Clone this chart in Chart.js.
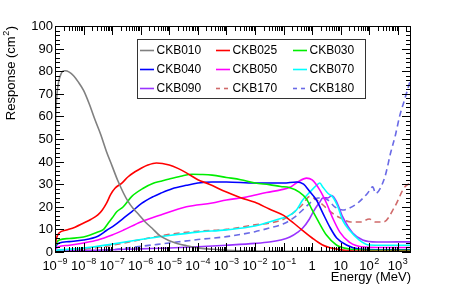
<!DOCTYPE html>
<html>
<head>
<meta charset="utf-8">
<script src="https://cdn.jsdelivr.net/npm/chart.js@4.4.1/dist/chart.umd.min.js"></script>
<style>
  html, body { margin: 0; padding: 0; background: #fff; }
  canvas { display: block; }
</style>
</head>
<body>
<canvas id="resp" width="457" height="287"></canvas>
<script>
// energies are given as log10(E / MeV), responses in cm^2
const ckb010LogE = [-9, -8.97, -8.93, -8.87, -8.8, -8.72, -8.65, -8.5, -8.35, -8.2, -8.0, -7.8, -7.6, -7.4, -7.2, -7.0, -6.8, -6.6, -6.45, -6.25, -6.1, -5.85, -5.6, -5.33, -5.0, -4.73, -4.4, -3.93, -3.5, -3.0, -2.0, -1.0, 0, 3.46];
const ckb010Resp = [45, 62, 70, 75.5, 78.5, 80, 80.2, 79.6, 78, 75.5, 71.5, 65.5, 58.5, 52, 44.5, 38, 31.5, 26, 22.5, 19, 17, 13.4, 10.5, 7.2, 5, 3.8, 2.8, 1.7, 1.2, 0.8, 0.4, 0.3, 0.2, 0.2];

const ckb025LogE = [-9, -8.95, -8.85, -8.6, -8.3, -8.0, -7.75, -7.5, -7.35, -7.2, -7.05, -6.9, -6.67, -6.44, -6.2, -5.97, -5.75, -5.45, -5.0, -4.7, -4.4, -4.0, -3.6, -3.0, -2.5, -2.0, -1.5, -1.0, -0.7, -0.35, 0, 0.35, 0.6, 0.9, 1.2, 1.6, 2.5, 3.46];
const ckb025Resp = [2, 6, 8.5, 9.7, 11, 12.8, 14.4, 16.4, 18.5, 21.5, 25.5, 28.2, 30.4, 33.3, 35.5, 37.2, 38.5, 39.4, 38.5, 37, 35, 32, 30, 26.5, 24, 22, 19, 16.2, 13.3, 9.7, 6.2, 3.2, 2, 1.2, 0.6, 0.4, 0.3, 0.3];

const ckb030LogE = [-9, -8.95, -8.85, -8.5, -8.0, -7.5, -7.3, -7.14, -7.0, -6.84, -6.61, -6.32, -5.91, -5.56, -5.3, -5.0, -4.6, -4.2, -3.9, -3.5, -3.0, -2.5, -2.0, -1.5, -1.1, -0.8, -0.45, -0.2, 0.0, 0.25, 0.5, 0.85, 1.3, 2, 3.46];
const ckb030Resp = [2, 4, 5.3, 6, 6.6, 8.8, 10, 12.7, 15, 17.8, 20, 24.5, 28.2, 30.4, 31.3, 32.3, 33.5, 34.4, 34.3, 34, 33, 32, 30.5, 29.8, 29, 28.5, 26.5, 23.5, 18.6, 12.8, 7.5, 3.1, 1.3, 0.8, 0.8];

const ckb040LogE = [-9, -8.95, -8.85, -8.5, -8.0, -7.5, -7.2, -6.9, -6.61, -6.32, -5.97, -5.56, -5.3, -4.9, -4.4, -4.0, -3.5, -3.0, -2.0, -1.5, -1.0, -0.55, -0.3, -0.1, 0.15, 0.37, 0.62, 0.86, 1.2, 1.65, 2.5, 3.46];
const ckb040Resp = [1.5, 3, 4, 4.6, 5.3, 7, 9.5, 12, 14.9, 17.8, 21.5, 24.5, 26, 28, 29.5, 30.5, 31, 31, 30.5, 30.5, 30.5, 31, 30, 27, 23, 17.3, 11, 6.2, 3.1, 1.3, 1, 1];

const ckb050LogE = [-9, -8.9, -8.5, -8.0, -7.5, -7.0, -6.6, -6.0, -5.3, -4.4, -3.5, -3.0, -2.3, -1.6, -1.1, -0.8, -0.5, -0.2, 0.0, 0.27, 0.5, 0.72, 0.97, 1.3, 1.8, 2.5, 3.46];
const ckb050Resp = [1, 2.2, 3, 4, 5.3, 7.5, 9.7, 13.3, 16.4, 20, 21.7, 23, 24.3, 26.3, 27.5, 28.5, 31, 32.7, 31.9, 27.4, 21.7, 15, 8.8, 4.4, 2.2, 2, 2];

const ckb070LogE = [-9, -8, -7, -6, -5, -4, -3, -2, -1.5, -1.1, -0.85, -0.55, -0.33, -0.08, 0.16, 0.27, 0.37, 0.55, 0.72, 0.9, 1.07, 1.3, 1.65, 2.0, 2.5, 3.46];
const ckb070Resp = [0.8, 1.7, 3.5, 5.5, 7.3, 8.8, 9.8, 11.5, 13.3, 14.8, 15.8, 18.6, 23, 26.5, 29.6, 30.5, 28.8, 26, 24.3, 20, 14, 9.7, 5.3, 3.1, 3, 3];

const ckb090LogE = [-9, -8, -7, -6, -5, -4, -3, -2, -1.5, -1.1, -0.78, -0.5, -0.33, -0.1, 0.02, 0.15, 0.27, 0.37, 0.47, 0.55, 0.69, 0.86, 1.07, 1.42, 1.77, 2.26, 3.0, 3.46];
const ckb090Resp = [0.3, 0.6, 1.0, 1.4, 1.8, 2.3, 3, 3.8, 4.4, 5.3, 6.6, 8.8, 10.6, 14.5, 17.3, 20, 22.1, 23.9, 24.0, 23.9, 25, 22.1, 15.5, 8.4, 5.3, 4.4, 4.5, 4.5];

const ckb170LogE = [-9, -8, -7, -6, -5, -4, -3, -2, -1.5, -1.0, -0.5, -0.3, -0.1, 0.3, 0.65, 1.0, 1.35, 1.7, 2.0, 2.2, 2.5, 2.89, 3.24, 3.46];
const ckb170Resp = [0.5, 1.2, 3, 5.5, 7.8, 9.2, 10, 12, 12.8, 14.5, 19, 21.5, 24.5, 21.7, 17.7, 15, 13.3, 13.3, 14.6, 13.3, 13.3, 20, 28.8, 30.5];

const ckb180LogE = [-9, -8, -7, -6, -5, -4, -3, -2, -1.5, -1.0, -0.6, -0.3, 0.0, 0.2, 0.55, 0.79, 1.07, 1.31, 1.6, 1.94, 2.12, 2.22, 2.54, 2.75, 2.92, 3.06, 3.25, 3.46];
const ckb180Resp = [0.2, 0.4, 1, 2.5, 4, 5.5, 6.8, 9, 10.6, 12.5, 15.5, 19, 22.5, 23.9, 23, 20, 18.6, 19.5, 21.7, 26, 28.8, 26, 33, 44, 52, 60, 68, 77];

const seriesNames = ['CKB010', 'CKB025', 'CKB030', 'CKB040', 'CKB050', 'CKB070', 'CKB090', 'CKB170', 'CKB180'];
const seriesLogE = [ckb010LogE, ckb025LogE, ckb030LogE, ckb040LogE, ckb050LogE, ckb070LogE, ckb090LogE, ckb170LogE, ckb180LogE];
const seriesResp = [ckb010Resp, ckb025Resp, ckb030Resp, ckb040Resp, ckb050Resp, ckb070Resp, ckb090Resp, ckb170Resp, ckb180Resp];

const xDecades = [-9, -8, -7, -6, -5, -4, -3, -2, -1, 0, 1, 2, 3];
const yTicks = [0, 10, 20, 30, 40, 50, 60, 70, 80, 90, 100];

// styles
const colors = ['#808080', '#ff0000', '#00ee00', '#0000ff', '#ff00ff', '#00ffff', '#9933ff', '#d06a6a', '#6a6ae6'];
const dashed = [false, false, false, false, false, false, false, true, true];
const FONT = '"Liberation Sans", Arial, Helvetica, sans-serif';

const datasets = seriesNames.map((name, i) => ({
  label: name,
  data: seriesLogE[i].map((lx, j) => ({ x: Math.pow(10, lx), y: seriesResp[i][j] })),
  borderColor: colors[i],
  backgroundColor: colors[i],
  borderWidth: 1.6,
  borderDash: dashed[i] ? [6, 4] : [],
  pointRadius: 0,
  cubicInterpolationMode: 'monotone',
  fill: false
}));

function supText(ctx, base, exp, x, y, align) {
  ctx.font = '13px ' + FONT;
  const wb = ctx.measureText(base).width;
  ctx.font = '9px ' + FONT;
  const we = exp ? ctx.measureText(exp).width + 0.5 : 0;
  const w = wb + we;
  let x0 = align === 'center' ? x - w / 2 : (align === 'right' ? x - w : x);
  ctx.textAlign = 'left';
  ctx.font = '13px ' + FONT;
  ctx.fillText(base, x0, y);
  if (exp) {
    ctx.font = '9px ' + FONT;
    ctx.fillText(exp, x0 + wb + 0.5, y - 6);
  }
}

const framePlugin = {
  id: 'rootFrame',
  afterDatasetsDraw(chart) {
    const ctx = chart.ctx;
    const a = chart.chartArea;
    const xs = chart.scales.x, ys = chart.scales.y;
    ctx.save();
    ctx.strokeStyle = '#000';
    ctx.fillStyle = '#000';
    ctx.lineWidth = 1;
    ctx.setLineDash([]);
    ctx.strokeRect(a.left + 0.5, a.top + 0.5, a.right - a.left - 1, a.bottom - a.top - 1);

    // y ticks, both sides, pointing inward
    ctx.beginPath();
    for (let v = 0; v <= 100; v += 2) {
      const py = Math.round(ys.getPixelForValue(v)) + 0.5;
      const len = v % 10 === 0 ? 9 : 5;
      ctx.moveTo(a.left, py); ctx.lineTo(a.left + len, py);
      ctx.moveTo(a.right, py); ctx.lineTo(a.right - len, py);
    }
    // x ticks, log, bottom and top
    for (const d of xDecades) {
      for (let m = 1; m <= 9; m++) {
        const val = m * Math.pow(10, d);
        if (val < xs.min || val > xs.max) continue;
        const px = Math.round(xs.getPixelForValue(val)) + 0.5;
        const len = m === 1 ? 9 : 5;
        ctx.moveTo(px, a.bottom); ctx.lineTo(px, a.bottom - len);
        ctx.moveTo(px, a.top); ctx.lineTo(px, a.top + len);
      }
    }
    ctx.stroke();

    // y tick labels
    ctx.textBaseline = 'middle';
    ctx.textAlign = 'right';
    ctx.font = '13px ' + FONT;
    for (const v of yTicks) {
      ctx.fillText(String(v), a.left - 2, ys.getPixelForValue(v) + 0.5);
    }

    // x tick labels
    ctx.textBaseline = 'alphabetic';
    for (const d of xDecades) {
      const px = xs.getPixelForValue(Math.pow(10, d));
      if (d === 0) supText(ctx, '1', '', px, 270, 'center');
      else if (d === 1) supText(ctx, '10', '', px, 270, 'center');
      else supText(ctx, '10', String(d).replace('-', '\u2212'), px, 270, 'center');
    }

    // axis titles
    ctx.font = '13px ' + FONT;
    ctx.textAlign = 'right';
    ctx.fillText('Energy (MeV)', a.right, 281);

    ctx.save();
    ctx.translate(15, a.top);
    ctx.rotate(-Math.PI / 2);
    ctx.font = '13px ' + FONT;
    const t1 = 'Response (cm', t3 = ')';
    const w1 = ctx.measureText(t1).width, w3 = ctx.measureText(t3).width;
    ctx.font = '9px ' + FONT;
    const w2 = ctx.measureText('2').width;
    let x0 = -(w1 + w2 + w3 + 1);
    ctx.textAlign = 'left';
    ctx.font = '13px ' + FONT;
    ctx.fillText(t1, x0, 0);
    ctx.font = '9px ' + FONT;
    ctx.fillText('2', x0 + w1 + 0.5, -6);
    ctx.font = '13px ' + FONT;
    ctx.fillText(t3, x0 + w1 + w2 + 1, 0);
    ctx.restore();

    // legend box
    const lx = 137, ly = 39, lw = 228, lh = 59;
    ctx.fillStyle = '#fff';
    ctx.fillRect(lx, ly, lw, lh);
    ctx.strokeStyle = '#333';
    ctx.strokeRect(lx + 0.5, ly + 0.5, lw, lh);
    const colX = [140, 216, 293];
    const rowY = [50.5, 69.5, 88.5];
    ctx.font = '12px ' + FONT;
    ctx.textBaseline = 'middle';
    ctx.textAlign = 'left';
    chart.data.datasets.forEach((ds, i) => {
      const cx = colX[i % 3], cy = rowY[Math.floor(i / 3)];
      ctx.strokeStyle = ds.borderColor;
      ctx.lineWidth = 1.6;
      ctx.setLineDash(ds.borderDash.length ? [4, 4] : []);
      ctx.beginPath();
      ctx.moveTo(cx, cy); ctx.lineTo(cx + 14, cy);
      ctx.stroke();
      ctx.setLineDash([]);
      ctx.fillStyle = '#000';
      ctx.fillText(ds.label, cx + 16.5, cy + 0.5);
    });
    ctx.restore();
  }
};

new Chart(document.getElementById('resp'), {
  type: 'line',
  data: { datasets },
  options: {
    responsive: false,
    animation: false,
    devicePixelRatio: 1,
    layout: { padding: { left: 55, right: 46, top: 26, bottom: 35 } },
    scales: {
      x: { type: 'logarithmic', min: 1e-9, max: Math.pow(10, 3.46), display: false },
      y: { type: 'linear', min: 0, max: 100, display: false }
    },
    plugins: { legend: { display: false }, tooltip: { enabled: false } }
  },
  plugins: [framePlugin]
});
</script>
</body>
</html>
